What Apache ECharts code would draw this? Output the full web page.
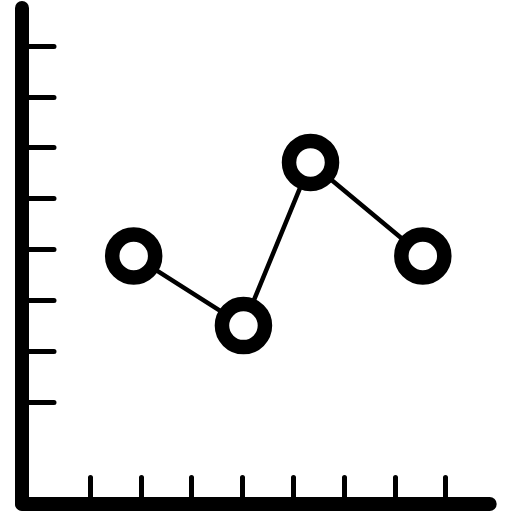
<!DOCTYPE html>
<html lang="en">

<head>
    <meta charset="UTF-8">
    <title>Line chart icon</title>
    <style>
        html, body { margin: 0; padding: 0; background: #fff; }
    </style>
</head>

<body>
    <div id="main" style="width:512px;height:512px;"></div>
</body>

<script src="https://cdn.jsdelivr.net/npm/echarts@6/dist/echarts.min.js"></script>
<script>
    // tick marks on both axes
    var xTicks = [1, 2, 3, 4, 5, 6, 7, 8];
    var yTicks = [1, 2, 3, 4, 5, 6, 7, 8];

    // the four ringed points
    var xValues = [1.86, 4.02, 5.34, 7.55];
    var yValues = [3.87, 2.50, 5.71, 3.87];

    var main = echarts.init(document.getElementById('main'));

    var points = xValues.map(function (x, i) {
        return [x, yValues[i]];
    });

    var option = {
        backgroundColor: '#fff',
        animation: false,
        grid: {
            left: 22,
            right: 22.3,
            top: 8,
            bottom: 8.5
        },
        xAxis: {
            type: 'value',
            min: -0.338,
            max: 8.866,
            axisLine: {
                onZero: false,
                lineStyle: { color: '#000', width: 14, cap: 'round' }
            },
            axisTick: {
                inside: true,
                length: 26,
                customValues: xTicks,
                lineStyle: { color: '#000', width: 5, cap: 'round' }
            },
            axisLabel: { show: false },
            splitLine: { show: false }
        },
        yAxis: {
            type: 'value',
            min: -1,
            max: 8.748,
            axisLine: {
                show: true,
                onZero: false,
                lineStyle: { color: '#000', width: 14, cap: 'round' }
            },
            axisTick: {
                show: true,
                inside: true,
                length: 32,
                customValues: yTicks,
                lineStyle: { color: '#000', width: 5, cap: 'round' }
            },
            axisLabel: { show: false },
            splitLine: { show: false }
        },
        series: [{
            type: 'line',
            data: points,
            symbol: 'circle',
            symbolSize: 43,
            showSymbol: true,
            clip: false,
            lineStyle: { color: '#000', width: 4.5 },
            itemStyle: {
                color: '#fff',
                borderColor: '#000',
                borderWidth: 14.5
            }
        }]
    };
    main.setOption(option);
</script>

</html>
